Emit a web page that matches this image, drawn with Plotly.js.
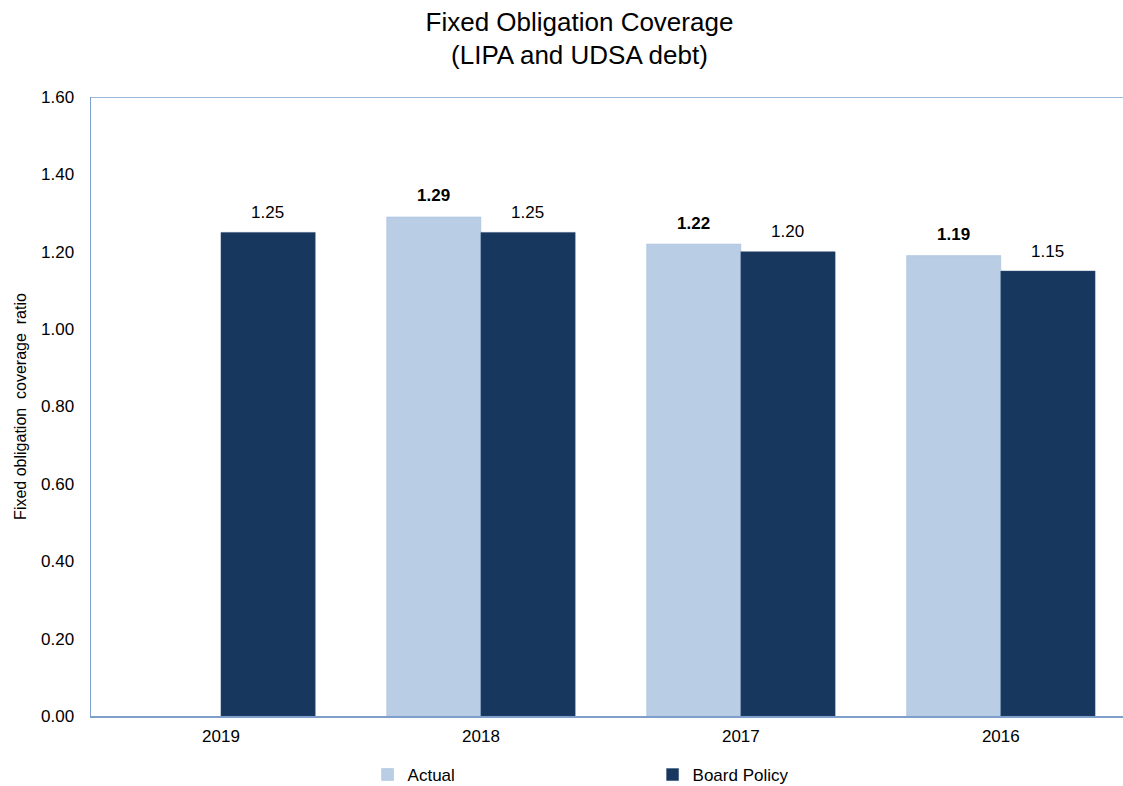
<!DOCTYPE html>
<html>
<head>
<meta charset="utf-8">
<script src="https://cdn.plot.ly/plotly-3.0.1.min.js"></script>
<style>html,body{margin:0;padding:0;background:#fff;}#chart{width:1123px;height:786px;}</style>
</head>
<body>
<div id="chart"></div>
<script>
const categories = ["2019", "2018", "2017", "2016"];
const actual = [null, 1.29, 1.22, 1.19];
const boardPolicy = [1.25, 1.25, 1.20, 1.15];
const yTicks = [0, 0.2, 0.4, 0.6, 0.8, 1.0, 1.2, 1.4, 1.6];
const yTickLabels = ["0.00", "0.20", "0.40", "0.60", "0.80", "1.00", "1.20", "1.40", "1.60"];

const fontFam = "Liberation Sans, Arial, sans-serif";

const traces = [
  {
    type: "bar", name: "Actual", x: categories, y: actual,
    marker: {color: "#B9CDE5", line: {color: "#A9BFDC", width: 0.5}},
    hoverinfo: "skip"
  },
  {
    type: "bar", name: "Board Policy", x: categories, y: boardPolicy,
    marker: {color: "#17375E", line: {color: "#2B4A73", width: 0.5}},
    hoverinfo: "skip"
  }
];

// value labels above each bar (x given as category index on the category axis)
const annotations = [];
categories.forEach((c, i) => {
  if (actual[i] != null) {
    annotations.push({x: i, y: actual[i], xref: "x", yref: "y", text: "<b>" + actual[i].toFixed(2) + "</b>",
      showarrow: false, xshift: -47, yshift: 21, font: {family: fontFam, size: 17, color: "#000"}});
  }
  if (boardPolicy[i] != null) {
    annotations.push({x: i, y: boardPolicy[i], xref: "x", yref: "y", text: boardPolicy[i].toFixed(2),
      showarrow: false, xshift: 47, yshift: 20, font: {family: fontFam, size: 17, color: "#000"}});
  }
});

const layout = {
  width: 1123, height: 786,
  paper_bgcolor: "#fff", plot_bgcolor: "#fff",
  margin: {l: 91, r: 0, t: 97, b: 70},
  barmode: "group", bargap: 0.275, bargroupgap: 0,
  font: {family: fontFam, size: 17, color: "#000"},
  title: {
    text: "Fixed Obligation Coverage<br>(LIPA and UDSA debt)",
    x: 0.516, xanchor: "center", yref: "container", y: 0.961, yanchor: "middle",
    font: {family: fontFam, size: 26, color: "#000"}
  },
  xaxis: {
    type: "category", range: [-0.5, 3.47],
    showline: true, linecolor: "#7F9FCB", linewidth: 1.5, mirror: false,
    showgrid: false, ticks: "", tickfont: {family: fontFam, size: 17},
    ticklabelstandoff: 4
  },
  yaxis: {
    range: [0, 1.6], tickvals: yTicks, ticktext: yTickLabels,
    showline: true, linecolor: "#7F9FCB", linewidth: 1.5,
    showgrid: false, zeroline: false, ticks: "", ticklen: 0,
    tickfont: {family: fontFam, size: 17},
    ticklabelstandoff: 12,
    title: {text: "Fixed obligation  coverage  ratio", standoff: 10, font: {family: fontFam, size: 16}}
  },
  shapes: [
    {type: "line", xref: "paper", yref: "y", x0: 0, x1: 1, y0: 1.6, y1: 1.6, line: {color: "#7F9FCB", width: 1.5}}
  ],
  annotations: annotations,
  showlegend: true,
  legend: {
    orientation: "h", x: 0.268, xanchor: "left",
    yref: "container", y: 0.014, yanchor: "middle",
    entrywidth: 240, entrywidthmode: "pixels",
    font: {family: fontFam, size: 17}, itemwidth: 30, traceorder: "normal"
  }
};

Plotly.newPlot("chart", traces, layout, {staticPlot: true});
</script>
</body>
</html>
